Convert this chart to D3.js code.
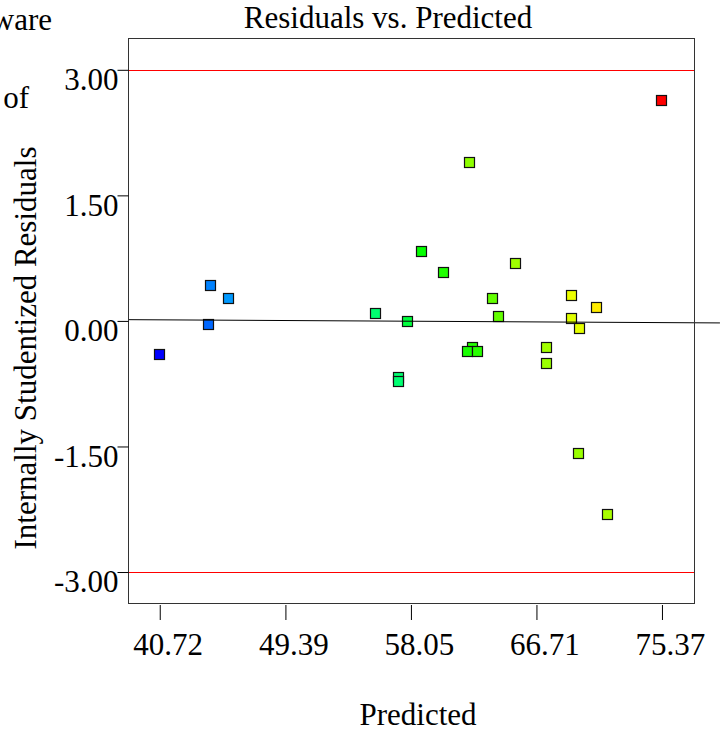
<!DOCTYPE html>
<html>
<head>
<meta charset="utf-8">
<script src="https://cdn.jsdelivr.net/npm/d3@7"></script>
<style>
  body { margin: 0; background: #fff; }
  svg { display: block; }
  text { font-family: "Liberation Serif", "Times New Roman", serif; fill: #000; }
</style>
</head>
<body>
<svg class="chart"></svg>
<script>
// values
var predicted = [40.67, 44.03, 44.19, 45.46, 55.58, 57.75, 57.17, 57.17, 58.73, 60.27, 62.07, 65.20, 63.66,
                 64.07, 69.09, 70.83, 69.07, 69.62, 62.28, 61.93, 62.62, 67.36, 67.36, 75.30, 69.55, 71.57];
var residuals = [-0.40, -0.04, 0.43, 0.27, 0.10, 0.00, -0.67, -0.72, 0.84, 0.59, 1.90, 0.69, 0.27,
                 0.06, 0.31, 0.17, 0.04, -0.09, -0.31, -0.36, -0.36, -0.31, -0.50, 2.64, -1.58, -2.31];
// response value used for the point colours
var actual = [39.9, 44.0, 45.1, 46.0, 55.8, 57.8, 55.8, 55.7, 60.4, 61.5, 65.9, 66.6, 64.2,
              64.2, 69.7, 71.2, 69.2, 69.4, 61.7, 61.2, 61.9, 66.7, 66.4, 80.6, 66.4, 67.0];

var xTicks = [40.72, 49.39, 58.05, 66.71, 75.37];
var yTicks = [-3, -1.5, 0, 1.5, 3];
var limits = [3, -3];
var trendX = [38.53, 79.37];
var trendY = [0.015, -0.024];

function show() {
    'use strict';

    var W = 720, H = 733;
    var left = 128, right = 694, top = 38, bottom = 603;
    var fontSize = 31;
    var serif = '"Liberation Serif", "Times New Roman", serif';

    var svg = d3.select('.chart')
        .attr('width', W)
        .attr('height', H);

    var x = d3.scaleLinear().domain([38.53, 77.58]).range([left, right]);
    var y = d3.scaleLinear().domain([-3.37, 3.38]).range([bottom, top]);
    var hue = d3.scaleLinear().domain(d3.extent(actual)).range([240, 0]);

    var fmt = function (d) { return d3.format('.2f')(d).replace('\u2212', '-'); };

    // cut-off legend text on the left
    svg.append('text')
        .attr('x', 52).attr('y', 30)
        .attr('text-anchor', 'end')
        .style('font-size', fontSize + 'px')
        .text('Design-Expert\u00AE Software');
    svg.append('text')
        .attr('x', 29).attr('y', 108)
        .attr('text-anchor', 'end')
        .style('font-size', fontSize + 'px')
        .text('Color points by value of');

    // title
    svg.append('text')
        .attr('x', 388).attr('y', 28)
        .attr('text-anchor', 'middle')
        .style('font-size', fontSize + 'px')
        .text('Residuals vs. Predicted');

    // limit lines
    svg.selectAll('.limit').data(limits)
        .enter()
        .append('line')
        .attr('class', 'limit')
        .attr('x1', left).attr('x2', right)
        .attr('y1', function (d) { return Math.round(y(d)) + 0.5; })
        .attr('y2', function (d) { return Math.round(y(d)) + 0.5; })
        .attr('stroke', '#ff0000')
        .attr('stroke-width', 1);

    // points
    var pts = predicted.map(function (p, i) { return { x: p, r: residuals[i], a: actual[i] }; });
    var size = 10;

    svg.selectAll('.pt').data(pts)
        .enter()
        .append('rect')
        .attr('class', 'pt')
        .attr('x', function (d) { return Math.round(x(d.x) - size / 2) + 0.5; })
        .attr('y', function (d) { return Math.round(y(d.r) - size / 2) + 0.5; })
        .attr('width', size)
        .attr('height', size)
        .attr('fill', function (d) { return d3.hsl(hue(d.a), 1, 0.5).toString(); })
        .attr('stroke', '#111')
        .attr('stroke-width', 1.2);

    // trend line, runs past the frame
    svg.append('line')
        .attr('x1', x(trendX[0])).attr('y1', y(trendY[0]))
        .attr('x2', x(trendX[1])).attr('y2', y(trendY[1]))
        .attr('stroke', '#000')
        .attr('stroke-width', 1);

    // frame
    svg.append('rect')
        .attr('x', left + 0.5).attr('y', top + 0.5)
        .attr('width', right - left).attr('height', bottom - top)
        .attr('fill', 'none')
        .attr('stroke', '#333')
        .attr('stroke-width', 1);

    // axes
    var yAxis = d3.axisLeft(y)
        .tickValues(yTicks)
        .tickSize(11)
        .tickSizeOuter(0)
        .tickFormat(fmt);

    var yg = svg.append('g')
        .attr('transform', 'translate(' + (left + 0.5) + ',0)')
        .call(yAxis);
    yg.select('.domain').remove();
    yg.selectAll('.tick line').attr('stroke', '#000');
    yg.selectAll('.tick text')
        .attr('x', -10)
        .attr('dy', '0.64em')
        .style('font-size', fontSize + 'px')
        .style('font-family', serif);

    var xAxis = d3.axisBottom(x)
        .tickValues(xTicks)
        .tickSize(15)
        .tickSizeOuter(0)
        .tickFormat(fmt);

    var xg = svg.append('g')
        .attr('transform', 'translate(0,' + (bottom + 2) + ')')
        .call(xAxis);
    xg.select('.domain').remove();
    xg.selectAll('.tick line').attr('stroke', '#000');
    xg.selectAll('.tick text')
        .attr('y', 28)
        .attr('dx', 8)
        .style('font-size', fontSize + 'px')
        .style('font-family', serif);

    // axis titles
    svg.append('text')
        .attr('transform', 'translate(36,348) rotate(-90)')
        .attr('text-anchor', 'middle')
        .style('font-size', fontSize + 'px')
        .text('Internally Studentized Residuals');

    svg.append('text')
        .attr('x', 418).attr('y', 725)
        .attr('text-anchor', 'middle')
        .style('font-size', fontSize + 'px')
        .text('Predicted');
}

show();
</script>
</body>
</html>
